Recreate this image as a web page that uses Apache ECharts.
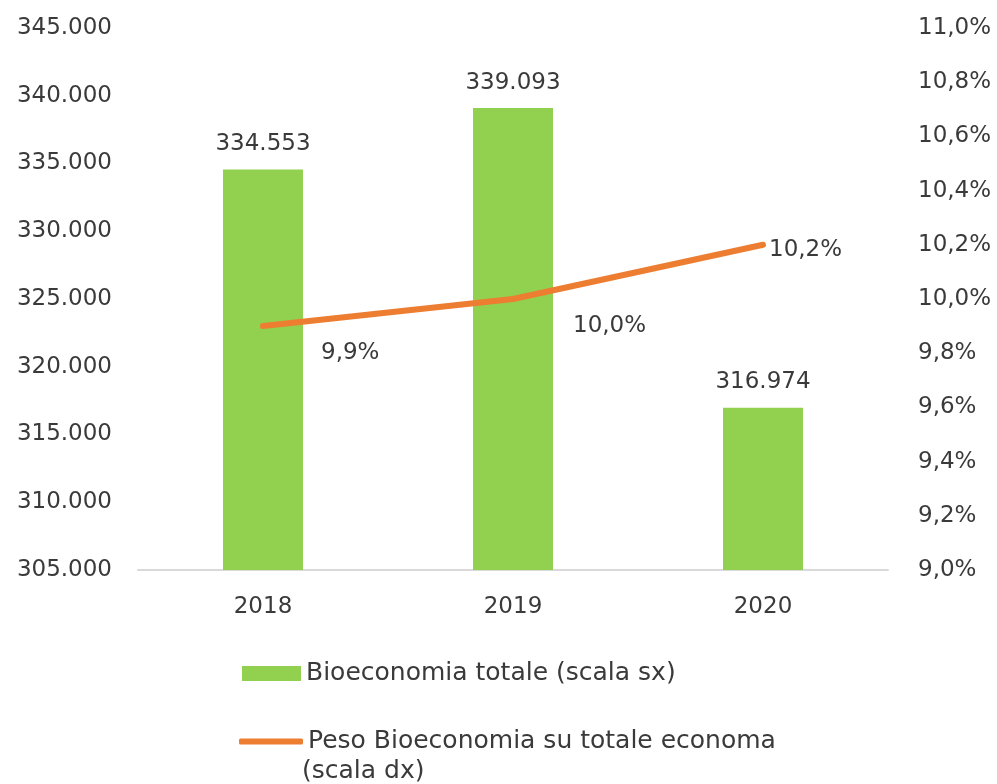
<!DOCTYPE html>
<html>
<head>
<meta charset="utf-8">
<script src="https://cdn.jsdelivr.net/npm/echarts@6/dist/echarts.min.js"></script>
<style>
html, body { margin: 0; padding: 0; background: #fff; }
#chart { width: 997px; height: 784px; }
</style>
</head>
<body>
<div id="chart"></div>
<script>
var years = ['2018', '2019', '2020'];
var bioTotale = [334553, 339093, 316974];
var pesoPct = [9.9, 10.0, 10.2];

var barName = 'Bioeconomia totale (scala sx)';
var lineName = 'Peso Bioeconomia su totale economa';

// 文字颜色/字体
var textColor = '#3a3a3a';
var fontFamily = 'DejaVu Sans';
var fontSize = 23;
var legendFontSize = 25;

// 折线标签的偏移
var lineLabelOffsets = [[52, 27], [54, 27], [0, 5]];

function fmtThousands(v) {
    return String(Math.round(v)).replace(/\B(?=(\d{3})+(?!\d))/g, '.');
}
function fmtPct(v) {
    return v.toFixed(1).replace('.', ',') + '%';
}

var lineData = pesoPct.map(function (v, i) {
    return {
        value: v,
        label: { offset: lineLabelOffsets[i] }
    };
});

var option = {
    backgroundColor: '#fff',
    animation: false,
    textStyle: { fontFamily: fontFamily },
    grid: {
        left: 138,
        right: 109,
        top: 28,
        bottom: 214
    },
    legend: [{
        data: [{ name: barName, icon: 'rect' }],
        left: 237,
        top: 656,
        itemWidth: 59,
        itemHeight: 15,
        textStyle: { color: textColor, fontSize: legendFontSize, fontFamily: fontFamily }
    }, {
        data: [{ name: lineName, icon: 'roundRect' }],
        left: 234,
        top: 724,
        itemWidth: 64,
        itemHeight: 6,
        textStyle: { color: textColor, fontSize: legendFontSize, fontFamily: fontFamily }
    }],
    graphic: [{
        type: 'text',
        left: 302,
        top: 759,
        style: {
            text: '(scala dx)',
            fill: textColor,
            font: legendFontSize + 'px "' + fontFamily + '"'
        }
    }],
    xAxis: {
        type: 'category',
        data: years,
        axisTick: { show: false },
        axisLine: { lineStyle: { color: '#d9d9d9', width: 2 } },
        axisLabel: { color: textColor, fontSize: fontSize, margin: 26 }
    },
    yAxis: [{
        type: 'value',
        min: 305000,
        max: 345000,
        interval: 5000,
        splitLine: { show: false },
        axisLine: { show: false },
        axisTick: { show: false },
        axisLabel: {
            color: textColor,
            fontSize: fontSize,
            margin: 26,
            formatter: fmtThousands
        }
    }, {
        type: 'value',
        min: 9,
        max: 11,
        interval: 0.2,
        splitLine: { show: false },
        axisLine: { show: false },
        axisTick: { show: false },
        axisLabel: {
            color: textColor,
            fontSize: fontSize,
            margin: 30,
            formatter: fmtPct
        }
    }],
    series: [{
        name: barName,
        type: 'bar',
        data: bioTotale,
        barWidth: 80,
        itemStyle: { color: '#92d050' },
        label: {
            show: true,
            position: 'top',
            distance: 14,
            color: textColor,
            fontSize: fontSize,
            formatter: function (p) { return fmtThousands(p.value); }
        }
    }, {
        name: lineName,
        type: 'line',
        yAxisIndex: 1,
        data: lineData,
        symbol: 'circle',
        symbolSize: 2,
        showSymbol: true,
        itemStyle: { color: '#ed7d31' },
        lineStyle: { color: '#ed7d31', width: 6, cap: 'round', join: 'round' },
        label: {
            show: true,
            position: 'right',
            distance: 5,
            color: textColor,
            fontSize: fontSize,
            formatter: function (p) { return fmtPct(p.value); }
        }
    }]
};

var myChart = echarts.init(document.getElementById('chart'));
myChart.setOption(option, true);
</script>
</body>
</html>
